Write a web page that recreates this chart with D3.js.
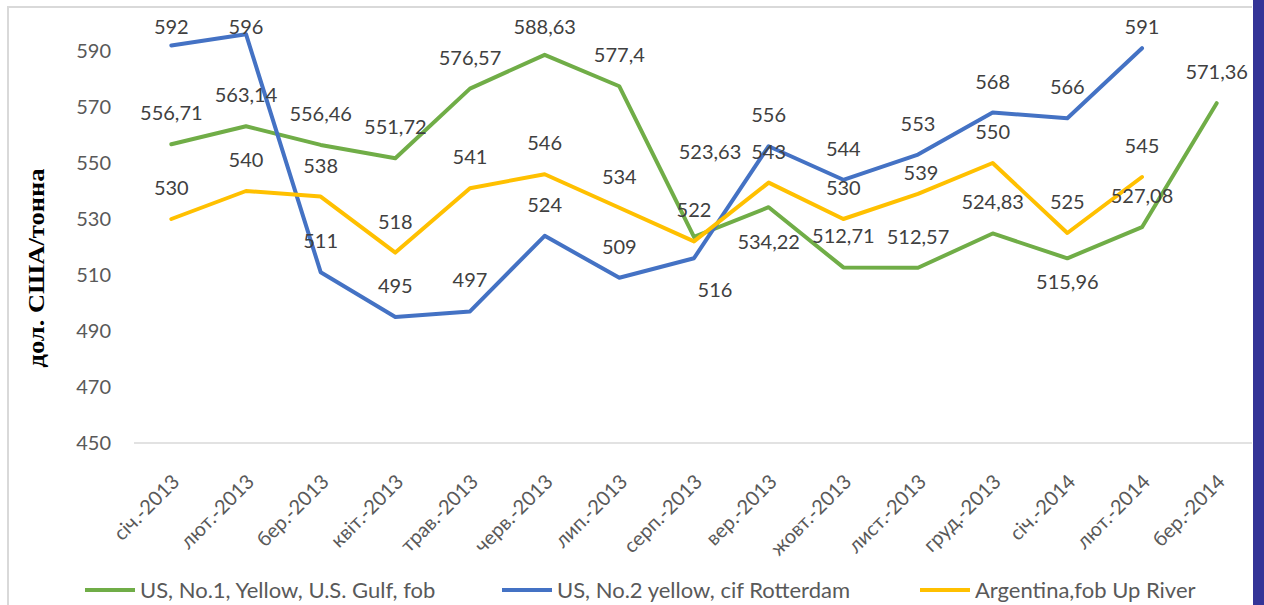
<!DOCTYPE html>
<html>
<head>
<meta charset="utf-8">
<script src="https://cdn.jsdelivr.net/npm/d3@7/dist/d3.min.js"></script>
<style>
  html, body { margin: 0; padding: 0; background: #ffffff; }
  svg { display: block; }
</style>
</head>
<body>
<svg id="chart" width="1264" height="605"></svg>
<script>
// ---- data ----
const categories = ["січ.-2013","лют.-2013","бер.-2013","квіт.-2013","трав.-2013","черв.-2013","лип.-2013","серп.-2013","вер.-2013","жовт.-2013","лист.-2013","груд.-2013","січ.-2014","лют.-2014","бер.-2014"];
const seriesNames = ["US, No.1, Yellow, U.S. Gulf, fob", "US, No.2 yellow, cif Rotterdam", "Argentina,fob Up River"];
const usGulf = [556.71, 563.14, 556.46, 551.72, 576.57, 588.63, 577.4, 523.63, 534.22, 512.71, 512.57, 524.83, 515.96, 527.08, 571.36];
const usRotterdam = [592, 596, 511, 495, 497, 524, 509, 516, 556, 544, 553, 568, 566, 591, null];
const argentina = [530, 540, 538, 518, 541, 546, 534, 522, 543, 530, 539, 550, 525, 545, null];
const yTicks = [450, 470, 490, 510, 530, 550, 570, 590];
const yTitle = "дол. США/тонна";

// ---- styling / label placement (not data) ----
const colors = ["#70AD47", "#4472C4", "#FFC000"];
const labelShift = { // [seriesIndex, pointIndex] -> [dx, dy] relative to point
  "0-7": [16, -85], "0-8": [0, 35], "0-12": [0, 24],
  "1-7": [21, 32],
  "2-10": [3, -21]
};

const svg = d3.select("#chart");
const W = 1264, H = 605;

// outer frame
svg.append("rect").attr("x", 0).attr("y", 0).attr("width", W).attr("height", H).attr("fill", "#fff");
svg.append("line").attr("x1", 8).attr("x2", 8).attr("y1", 6).attr("y2", H).attr("stroke", "#d9d9d9").attr("stroke-width", 2);
svg.append("line").attr("x1", 8).attr("x2", 1252).attr("y1", 7).attr("y2", 7).attr("stroke", "#d9d9d9").attr("stroke-width", 2);
svg.append("rect").attr("x", 1253).attr("y", 0).attr("width", 11).attr("height", H).attr("fill", "#343497");

const x = d3.scalePoint().domain(categories).range([134, 1254]).padding(0.5);
const y = d3.scaleLinear().domain([450, 610]).range([443, -5]);

// baseline
svg.append("line").attr("x1", 134).attr("x2", 1252).attr("y1", y(450)).attr("y2", y(450))
  .attr("stroke", "#d9d9d9").attr("stroke-width", 1.3);

// y axis
const gy = svg.append("g").attr("transform", "translate(134,0)")
  .call(d3.axisLeft(y).tickValues(yTicks).tickSize(0).tickPadding(23));
gy.select(".domain").remove();
gy.selectAll("text").attr("font-family", "Lato, sans-serif").attr("font-size", 20).attr("fill", "#595959");

// x axis
const gx = svg.append("g").attr("transform", `translate(0,${y(450)})`)
  .call(d3.axisBottom(x).tickSize(0));
gx.select(".domain").remove();
gx.selectAll("text")
  .attr("font-family", "Lato, sans-serif").attr("font-size", 20).attr("fill", "#595959")
  .attr("text-anchor", "end").attr("x", 0).attr("y", 0).attr("dy", "0.35em")
  .attr("transform", "translate(4,35) rotate(-45)");

// y title
svg.append("text")
  .attr("transform", "translate(36,268) rotate(-90)")
  .attr("text-anchor", "middle").attr("dy", "0.35em")
  .attr("font-family", "'Liberation Serif', 'Times New Roman', serif")
  .attr("font-weight", "bold").attr("font-size", 24).attr("fill", "#000")
  .attr("textLength", 199).attr("lengthAdjust", "spacingAndGlyphs")
  .text(yTitle);

// lines
const allSeries = [usGulf, usRotterdam, argentina];
const line = d3.line()
  .defined(d => d.v != null)
  .x(d => x(d.c)).y(d => y(d.v));

allSeries.forEach((vals, si) => {
  const pts = vals.map((v, i) => ({ c: categories[i], v }));
  svg.append("path").datum(pts)
    .attr("d", line).attr("fill", "none")
    .attr("stroke", colors[si]).attr("stroke-width", 4)
    .attr("stroke-linejoin", "round").attr("stroke-linecap", "round");
});

// data labels
const fmt = v => String(v).replace(".", ",");
allSeries.forEach((vals, si) => {
  vals.forEach((v, i) => {
    if (v == null) return;
    const px = x(categories[i]), py = y(v);
    const sh = labelShift[si + "-" + i];
    let lx = px, ly;
    if (sh) { lx = px + sh[0]; ly = py + sh[1]; }
    else { ly = Math.max(py - 31, 27); }
    svg.append("text")
      .attr("x", lx).attr("y", ly).attr("dy", "0.35em")
      .attr("text-anchor", "middle")
      .attr("font-family", "Lato, sans-serif").attr("font-size", 20).attr("fill", "#404040")
      .text(fmt(v));
  });
});

// legend
const legendX = [85, 502, 920];
const legendY = 590;
seriesNames.forEach((name, si) => {
  const g = svg.append("g").attr("transform", `translate(${legendX[si]},${legendY})`);
  g.append("line").attr("x1", 0).attr("x2", 50).attr("y1", 0).attr("y2", 0)
    .attr("stroke", colors[si]).attr("stroke-width", 4);
  g.append("text").attr("x", 55).attr("y", 0).attr("dy", "0.35em")
    .attr("font-family", "Lato, sans-serif").attr("font-size", 22).attr("fill", "#595959")
    .text(name);
});
</script>
</body>
</html>
